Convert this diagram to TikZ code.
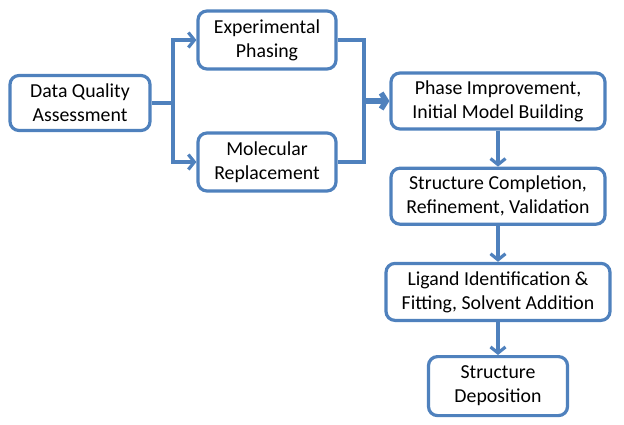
\documentclass[tikz,border=0pt]{standalone}
\usepackage{fontspec}
\setmainfont{Carlito}
\usetikzlibrary{positioning,arrows.meta}
\definecolor{flowblue}{RGB}{79,129,189}

\begin{document}
\begin{tikzpicture}[x=1pt,y=-1pt]

% Define stage box and connector styles
\tikzset{stagebox/.style={draw=flowblue, line width=3.2pt, fill=white,
    rectangle, rounded corners=9pt, align=center, inner sep=0pt,
    font=\fontsize{19.8}{24}\selectfont},
  link/.style={draw=flowblue, line width=3.2pt},
  linkarrow/.style={link, -{Straight Barb[length=6pt,width=15pt]}},
  mainarrow/.style={draw=flowblue, line width=5.5pt,
    -{Straight Barb[length=5pt,width=16pt]}}}

\useasboundingbox (0,0) rectangle (624,424);

\node [stagebox, minimum width=140pt, minimum height=55pt] (dq) at (80,103)
    {Data Quality\\Assessment};
\node [stagebox, minimum width=138pt, minimum height=58pt] (ep) at (267,40)
    {Experimental\\Phasing};
\node [stagebox, minimum width=138pt, minimum height=58pt] (mr) at (267,162)
    {Molecular\\Replacement};
\node [stagebox, minimum width=214pt, minimum height=56pt] (phase) at (498,101)
    {Phase Improvement,\\Initial Model Building};
\node [stagebox, minimum width=214pt, minimum height=56pt, below=36pt of phase] (refine)
    {Structure Completion,\\Refinement, Validation};
\node [stagebox, minimum width=224pt, minimum height=57pt, below=36pt of refine] (ligand)
    {Ligand Identification \&\\Fitting, Solvent Addition};
\node [stagebox, minimum width=139pt, minimum height=59pt, below=33pt of ligand] (deposit)
    {Structure\\Deposition};

% branching to the two phasing routes
\coordinate (split) at (173,103);
\draw [link] (dq.east) -- (split);
\draw [linkarrow] (split) |- (ep.west);
\draw [linkarrow] (split) |- (mr.west);

% joining the routes again
\coordinate (join) at (364,101);
\draw [link] (ep.east) -| (join) |- (mr.east);
\draw [mainarrow] (join) -- (phase.west);

\draw [linkarrow] (phase.south) -- (refine.north);
\draw [linkarrow] (refine.south) -- (ligand.north);
\draw [linkarrow] (ligand.south) -- (deposit.north);

\end{tikzpicture}
\end{document}
